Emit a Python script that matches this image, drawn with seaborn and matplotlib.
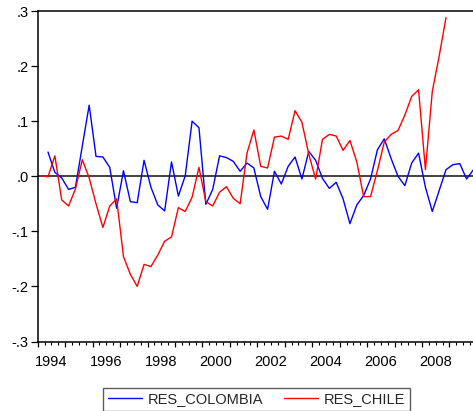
import numpy as np
import pandas as pd
import matplotlib
matplotlib.use("Agg")
import matplotlib.pyplot as plt
import seaborn as sns
from matplotlib.ticker import FixedLocator, FuncFormatter

# ---------------- data ----------------
start_year = 1994
n_quarters = 64  # 1994Q1 .. 2009Q4
quarters = [f"{start_year + q // 4}Q{q % 4 + 1}" for q in range(n_quarters)]

res_colombia = [np.nan, 0.044, 0.007, -0.003, -0.024, -0.020, 0.055, 0.129,
                0.036, 0.035, 0.016, -0.058, 0.010, -0.046, -0.048, 0.029,
                -0.020, -0.052, -0.063, 0.026, -0.036, 0.001, 0.100, 0.088,
                -0.051, -0.024, 0.037, 0.034, 0.027, 0.009, 0.024, 0.015,
                -0.037, -0.060, 0.009, -0.014, 0.018, 0.035, -0.005, 0.045,
                0.029, -0.004, -0.022, -0.011, -0.041, -0.086, -0.052, -0.035,
                -0.005, 0.048, 0.068, 0.032, 0.000, -0.017, 0.024, 0.042,
                -0.020, -0.064, -0.026, 0.012, 0.021, 0.023, -0.005, 0.012]

res_chile = [0.001, -0.001, 0.037, -0.043, -0.054, -0.023, 0.030, -0.003,
             -0.050, -0.093, -0.054, -0.041, -0.146, -0.178, -0.200, -0.160,
             -0.164, -0.143, -0.118, -0.110, -0.057, -0.064, -0.038, 0.016,
             -0.046, -0.054, -0.029, -0.019, -0.040, -0.050, 0.042, 0.084,
             0.018, 0.015, 0.071, 0.073, 0.067, 0.119, 0.098, 0.040,
             -0.005, 0.067, 0.076, 0.073, 0.047, 0.065, 0.026, -0.037,
             -0.037, 0.010, 0.062, 0.076, 0.083, 0.111, 0.145, 0.157,
             0.012, 0.154, 0.218, 0.288] + [np.nan] * 4

series_names = ["RES_COLOMBIA", "RES_CHILE"]
series_colors = ["#0000FF", "#FF0000"]

y_ticks = [-0.3, -0.2, -0.1, 0.0, 0.1, 0.2, 0.3]
y_tick_labels = ["-.3", "-.2", "-.1", ".0", ".1", ".2", ".3"]
x_label_years = [1994, 1996, 1998, 2000, 2002, 2004, 2006, 2008]

# ---------------- frame ----------------
def q_to_x(q):
    y, qq = q.split("Q")
    return int(y) + (int(qq) - 1) / 4 + 0.125  # mid-quarter

rows = []
for name, vals in zip(series_names, [res_colombia, res_chile]):
    for q, v in zip(quarters, vals):
        rows.append({"t": q_to_x(q), "value": v, "series": name})
df = pd.DataFrame(rows).dropna()

# ---------------- plot ----------------
sns.set_theme(style="ticks")
plt.rcParams["font.family"] = ["Liberation Sans", "DejaVu Sans"]

W, H = 473, 411
fig = plt.figure(figsize=(W / 100, H / 100), dpi=100)
left_px, right_px, top_px, bottom_px = 37.7, 476.9, 11.0, 341.5
ax = fig.add_axes([left_px / W, 1 - bottom_px / H,
                   (right_px - left_px) / W, (bottom_px - top_px) / H])

ax.axhline(0, color="#333333", lw=1.3, zorder=1)

sns.lineplot(data=df, x="t", y="value", hue="series",
             hue_order=series_names, palette=series_colors,
             linewidth=1.0, ax=ax, zorder=3, estimator=None, sort=True)

ax.set_xlim(start_year, start_year + n_quarters / 4)
ax.set_ylim(-0.3, 0.3)
ax.set_xlabel("")
ax.set_ylabel("")

# y axis
ax.set_yticks(y_ticks)
ax.set_yticklabels(y_tick_labels)

# x axis: major ticks at year boundaries, minor at quarters; labels at mid-year
years = np.arange(start_year, start_year + n_quarters // 4 + 1)
ax.xaxis.set_major_locator(FixedLocator(years))
ax.xaxis.set_major_formatter(FuncFormatter(lambda v, p: ""))
minor = [y + k / 4 for y in years[:-1] for k in (1, 2, 3)]
ax.xaxis.set_minor_locator(FixedLocator(minor))
label_pos = {y + 0.5: str(y) for y in x_label_years}
ax.xaxis.set_minor_formatter(
    FuncFormatter(lambda v, p: label_pos.get(round(v, 3), "")))

ax.tick_params(axis="y", which="major", direction="out", length=5, width=0.9,
               pad=1.5, labelsize=10.5, colors="black")
ax.tick_params(axis="x", which="major", direction="out", length=3.5, width=0.9,
               labelsize=10.5, colors="black")
ax.tick_params(axis="x", which="minor", direction="out", length=2, width=0.8,
               pad=7.5, labelsize=10.5, colors="black")

for s in ["left", "top", "bottom", "right"]:
    ax.spines[s].set_color("black")
    ax.spines[s].set_linewidth(1.1)

handles, labels = ax.get_legend_handles_labels()
if ax.get_legend() is not None:
    ax.get_legend().remove()
leg = fig.legend(handles, labels, loc="center", ncol=2,
                 bbox_to_anchor=(256.5 / W, 1 - 399.5 / H),
                 bbox_transform=fig.transFigure,
                 fontsize=10.5, frameon=True, fancybox=False,
                 edgecolor="#333333", borderpad=0.33, handlelength=2.3,
                 handletextpad=0.4, columnspacing=1.45, borderaxespad=0)
leg.get_frame().set_linewidth(1.0)
for line in leg.get_lines():
    line.set_linewidth(1.0)

fig.savefig("out.png", dpi=100)
